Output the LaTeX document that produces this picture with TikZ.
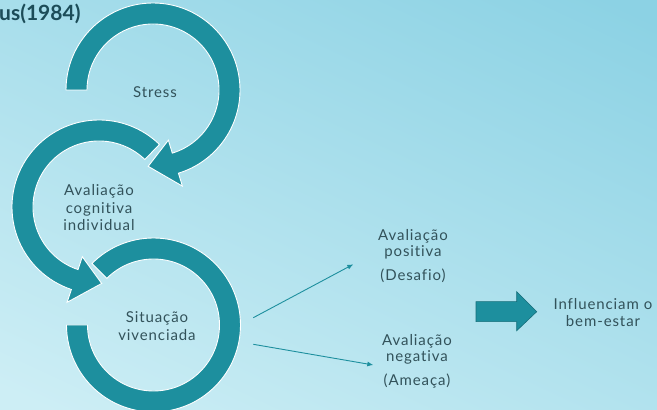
\documentclass[tikz,border=0pt]{standalone}
\usepackage{fontspec}
\setmainfont[Ligatures=NoCommon]{Lato}
\newfontfamily\lblfont[LetterSpace=6, Ligatures=NoCommon]{Lato}
\usetikzlibrary{arrows.meta}
\definecolor{tealA}{RGB}{29,143,158}
\definecolor{tealD}{RGB}{22,110,122}
\definecolor{txt}{RGB}{50,82,90}
\definecolor{ttl}{RGB}{28,76,88}
\definecolor{bgA}{RGB}{140,210,228}
\definecolor{bgB}{RGB}{205,238,245}
\begin{document}
\begin{tikzpicture}[x=1pt,y=1pt,
  ring/.style={fill=tealA, draw=white, line width=0.9pt, line join=miter},
  lbl/.style={text=txt, font=\lblfont\fontsize{15}{17.5}\selectfont, align=center, inner sep=0pt},
  conn/.style={draw=tealA, line width=0.9pt, -{Latex[length=6pt,width=5pt]}},
  blockarrow/.style={fill=tealA, draw=tealD, line width=0.6pt}]
\useasboundingbox (0,0) rectangle (657,410);
\clip (0,0) rectangle (657,410);
\shade[top color=bgA, bottom color=bgB, shading angle=-25] (-60,-60) rectangle (717,470);

% title
\node[anchor=base west, inner sep=0pt, text=ttl, font=\fontsize{21}{24}\selectfont\bfseries] (title) at (-1,389) {us(1984)};

% circle 3 (Situacao vivenciada)
\path[ring] ([shift={(135:87)}]153.5,85) arc[start angle=135,end angle=-180,radius=87]
  -- ([shift={(-180:66)}]153.5,85) arc[start angle=-180,end angle=135,radius=66] -- cycle;

% circle 2 (Avaliacao cognitiva individual)
\path[ring] ([shift={(46:87)}]99,203) arc[start angle=46,end angle=251.5,radius=87]
  -- ([shift={(251.5:100.5)}]99,203) -- ([shift={(272:76.5)}]99,203)
  -- ([shift={(251.5:52.5)}]99,203) -- ([shift={(251.5:66)}]99,203)
  arc[start angle=251.5,end angle=46,radius=66] -- cycle;

% circle 1 (Stress)
\path[ring] ([shift={(180:87)}]153,320) arc[start angle=180,end angle=-73,radius=87]
  -- ([shift={(-73:100.5)}]153,320) -- ([shift={(-93.6:76.5)}]153,320)
  -- ([shift={(-73:52.5)}]153,320) -- ([shift={(-73:66)}]153,320)
  arc[start angle=-73,end angle=180,radius=66] -- cycle;

% labels
\node[lbl] (stress) at (155,318) {Stress};
\node[lbl, text width=100pt] (aval) at (99,202) {Avaliação\\cognitiva\\individual};
\node[lbl, text width=100pt] (sit) at (157,84) {Situação\\vivenciada};
\node[lbl, text width=100pt] (pos) at (413,166) {Avaliação\\[-1.5pt]positiva};
\node[lbl] (desafio) at (413,134) {(Desafio)};
\node[lbl, text width=100pt] (neg) at (417,61) {Avaliação\\[-1.5pt]negativa};
\node[lbl] (ameaca) at (417,28.5) {(Ameaça)};
\node[lbl, text width=120pt] (infl) at (603,97.5) {Influenciam o\\[-0.5pt]bem-estar};

% connectors
\coordinate (s1) at (253.3,92.3);
\coordinate (e1) at (353.3,145.7);
\coordinate (s2) at (253.3,65.7);
\coordinate (e2) at (373.3,45);
\draw[conn] (s1) -- (e1);
\draw[conn] (s2) -- (e2);

% block arrow
\path[blockarrow] (476,108.3) -- (516.7,108.3) -- (516.7,118.3) -- (536.7,98.3)
  -- (516.7,79.3) -- (516.7,88.3) -- (476,88.3) -- cycle;
\end{tikzpicture}
\end{document}
